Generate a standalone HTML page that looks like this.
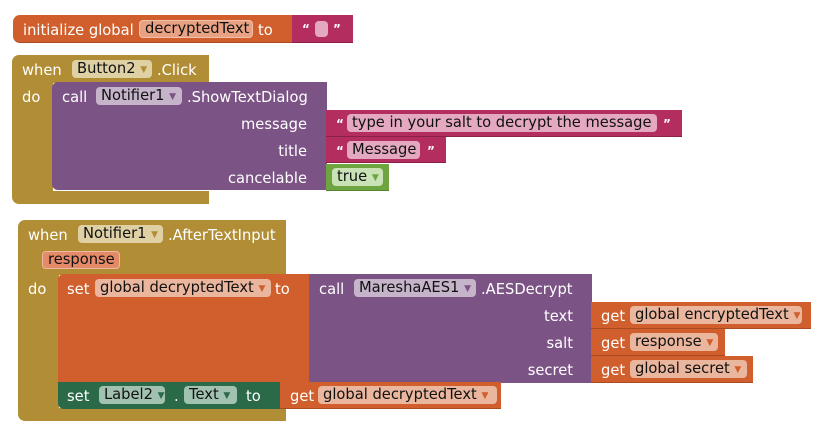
<!DOCTYPE html>
<html><head><meta charset="utf-8">
<style>
html,body{margin:0;padding:0;background:#fff;width:830px;height:436px;overflow:hidden}
body{position:relative;font-family:"DejaVu Sans","Liberation Sans",sans-serif;font-size:14.7px}
.b{position:absolute;box-sizing:border-box}
.t{position:absolute;color:#fff;white-space:nowrap;line-height:17px;margin-top:2px}
.r{text-align:right}
.f{position:absolute;box-sizing:border-box;border-radius:4px;color:#111;white-space:nowrap;line-height:18px;padding-left:5px;height:18px}
.a{font-size:9px;vertical-align:1px}
.q{font-size:12px;font-weight:bold}
</style></head><body>

<!-- Block 1 -->
<div class="b" style="left:13px;top:15px;width:280px;height:28px;background:#D05F2D;border-radius:7px 0 0 7px;border-bottom:1px solid #a84a22"></div>
<div class="t" style="left:23px;top:20px">initialize global</div>
<div class="f" style="left:139px;top:20px;width:114px;background:#E9A184;border:1px solid #f0c0a8;line-height:16px">decryptedText</div>
<div class="t" style="left:258px;top:20px">to</div>
<div class="b" style="left:292px;top:15px;width:61px;height:28px;background:#B32D5E;border-bottom:1px solid #8a2048"></div>
<div class="t q" style="left:302px;top:19px">“</div>
<div class="b" style="left:315px;top:21px;width:13px;height:16px;background:#E4A9C1;border-radius:4px"></div>
<div class="t q" style="left:333px;top:19px">”</div>

<!-- Block 2 -->
<div class="b" style="left:12px;top:55px;width:197px;height:28px;background:#B18E35;border-radius:7px 0 0 0"></div>
<div class="b" style="left:12px;top:82px;width:41px;height:111px;background:#B18E35"></div>
<div class="b" style="left:12px;top:191px;width:197px;height:13px;background:#B18E35;border-radius:0 0 0 7px"></div>
<div class="t" style="left:22px;top:60px">when</div>
<div class="f" style="left:72px;top:60px;width:80px;background:#E0D1A5">Button2 <span class="a" style="color:#b18e35">▼</span></div>
<div class="t" style="left:157px;top:60px">.Click</div>
<div class="t" style="left:22px;top:87px">do</div>
<div class="b" style="left:52px;top:82px;width:275px;height:108px;background:#7C5385;border-radius:6px 0 0 6px"></div>
<div class="t" style="left:62px;top:87px">call</div>
<div class="f" style="left:96px;top:87px;width:86px;background:#C6B4CA">Notifier1 <span class="a" style="color:#7c5385">▼</span></div>
<div class="t" style="left:187px;top:87px">.ShowTextDialog</div>
<div class="t r" style="left:150px;width:157px;top:114px">message</div>
<div class="t r" style="left:150px;width:157px;top:141px">title</div>
<div class="t r" style="left:150px;width:157px;top:168px">cancelable</div>

<div class="b" style="left:326px;top:110px;width:356px;height:27px;background:#B32D5E;border-bottom:1px solid #8a2048"></div>
<div class="t q" style="left:336px;top:114px">“</div>
<div class="f" style="left:347px;top:114px;width:310px;background:#E4A9C1">type in your salt to decrypt the message</div>
<div class="t q" style="left:663px;top:114px">”</div>
<div class="b" style="left:326px;top:137px;width:120px;height:26px;background:#B32D5E;border-bottom:1px solid #8a2048"></div>
<div class="t q" style="left:336px;top:141px">“</div>
<div class="f" style="left:347px;top:141px;width:73px;background:#E4A9C1">Message</div>
<div class="t q" style="left:427px;top:141px">”</div>
<div class="b" style="left:326px;top:164px;width:63px;height:27px;background:#6FA540;border-bottom:1px solid #558530"></div>
<div class="f" style="left:332px;top:168px;width:51px;background:#C9E2B6">true <span class="a" style="color:#6fa540">▼</span></div>

<!-- Block 3 -->
<div class="b" style="left:18px;top:220px;width:268px;height:55px;background:#B18E35;border-radius:7px 0 0 0"></div>
<div class="b" style="left:18px;top:274px;width:41px;height:140px;background:#B18E35"></div>
<div class="b" style="left:18px;top:408px;width:268px;height:13px;background:#B18E35;border-radius:0 0 0 7px"></div>
<div class="t" style="left:28px;top:225px">when</div>
<div class="f" style="left:78px;top:225px;width:85px;background:#E0D1A5">Notifier1 <span class="a" style="color:#b18e35">▼</span></div>
<div class="t" style="left:168px;top:225px">.AfterTextInput</div>
<div class="f" style="left:42px;top:251px;width:78px;background:#E48A68;border:1px solid #eeb8a0;line-height:16px">response</div>
<div class="t" style="left:28px;top:279px">do</div>

<div class="b" style="left:58px;top:274px;width:252px;height:109px;background:#D05F2D;border-radius:6px 0 0 0"></div>
<div class="t" style="left:67px;top:279px">set</div>
<div class="f" style="left:95px;top:279px;width:176px;background:#EBB69E">global decryptedText <span class="a" style="color:#d05f2d">▼</span></div>
<div class="t" style="left:275px;top:279px">to</div>

<div class="b" style="left:309px;top:274px;width:283px;height:109px;background:#7C5385"></div>
<div class="t" style="left:319px;top:279px">call</div>
<div class="f" style="left:354px;top:279px;width:122px;background:#C6B4CA">MareshaAES1 <span class="a" style="color:#7c5385">▼</span></div>
<div class="t" style="left:481px;top:279px">.AESDecrypt</div>
<div class="t r" style="left:450px;width:123px;top:306px">text</div>
<div class="t r" style="left:450px;width:123px;top:333px">salt</div>
<div class="t r" style="left:450px;width:123px;top:360px">secret</div>

<div class="b" style="left:591px;top:302px;width:220px;height:27px;background:#D05F2D;border-bottom:1px solid #a84a22"></div>
<div class="t" style="left:601px;top:306px">get</div>
<div class="f" style="left:630px;top:306px;width:172px;background:#EBB69E">global encryptedText <span class="a" style="color:#d05f2d">▼</span></div>
<div class="b" style="left:591px;top:329px;width:134px;height:27px;background:#D05F2D;border-bottom:1px solid #a84a22"></div>
<div class="t" style="left:601px;top:333px">get</div>
<div class="f" style="left:630px;top:333px;width:88px;background:#EBB69E">response <span class="a" style="color:#d05f2d">▼</span></div>
<div class="b" style="left:591px;top:356px;width:162px;height:27px;background:#D05F2D;border-bottom:1px solid #a84a22"></div>
<div class="t" style="left:601px;top:360px">get</div>
<div class="f" style="left:630px;top:360px;width:117px;background:#EBB69E">global secret <span class="a" style="color:#d05f2d">▼</span></div>

<div class="b" style="left:58px;top:382px;width:223px;height:27px;background:#2A6A48;border-radius:0 0 0 6px"></div>
<div class="t" style="left:67px;top:386px">set</div>
<div class="f" style="left:99px;top:386px;width:66px;background:#A2C2B1">Label2 <span class="a" style="color:#2a6a48">▼</span></div>
<div class="t" style="left:174px;top:386px">.</div>
<div class="f" style="left:184px;top:386px;width:53px;background:#A2C2B1">Text <span class="a" style="color:#2a6a48">▼</span></div>
<div class="t" style="left:246px;top:386px">to</div>
<div class="b" style="left:280px;top:382px;width:221px;height:27px;background:#D05F2D;border-bottom:1px solid #a84a22"></div>
<div class="t" style="left:290px;top:386px">get</div>
<div class="f" style="left:318px;top:386px;width:179px;background:#EBB69E">global decryptedText <span class="a" style="color:#d05f2d">▼</span></div>

</body></html>
